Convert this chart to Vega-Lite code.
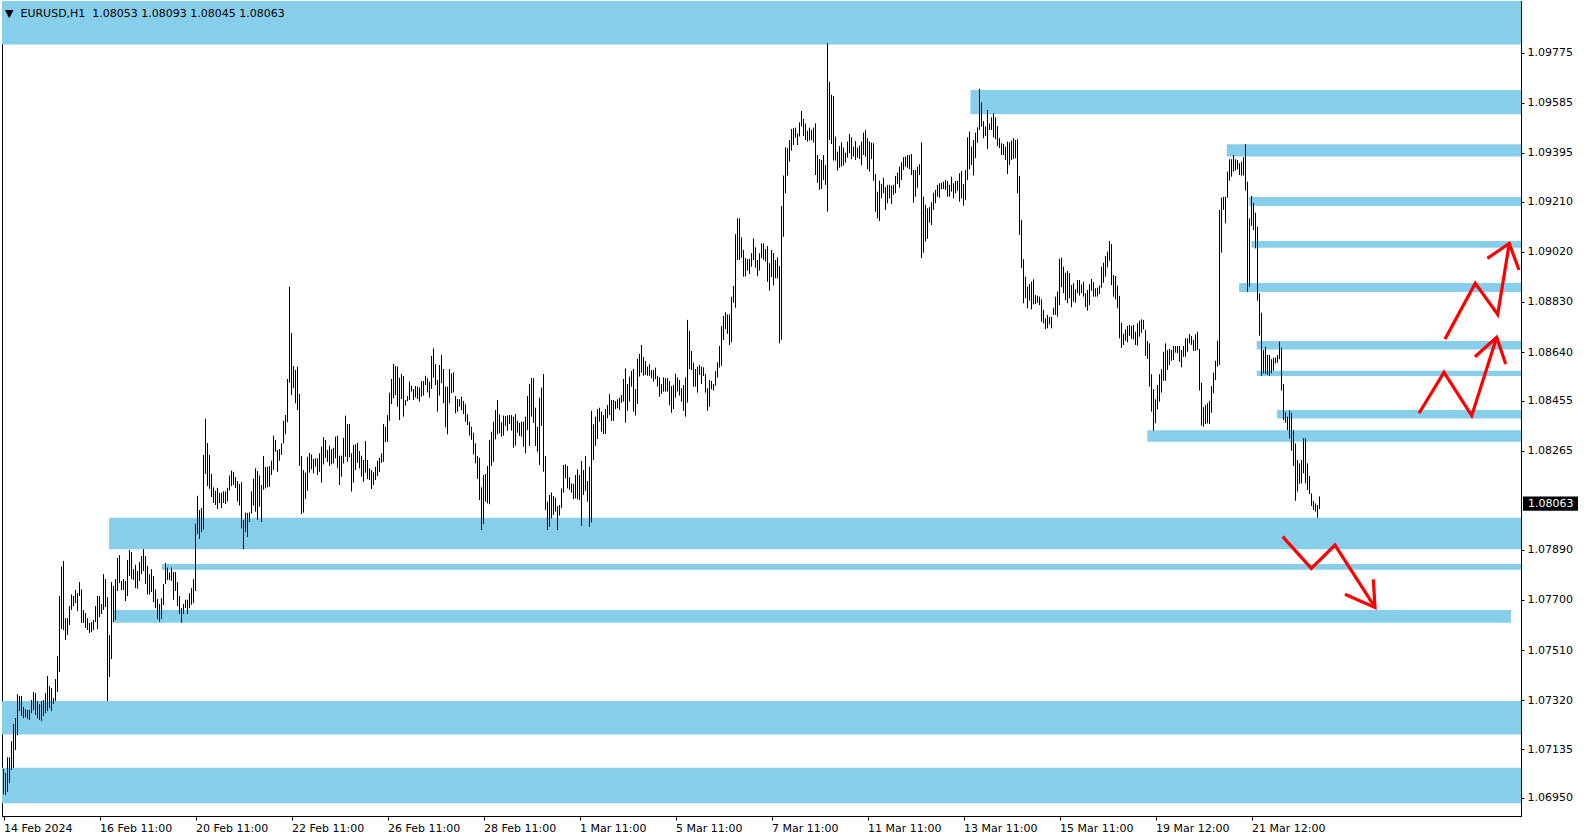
{
"$schema":"https://vega.github.io/schema/vega-lite/v6.json",
"width":1519,"height":815,
"autosize":{"type":"none"},
"padding":{"left":2,"top":1,"right":64,"bottom":24},
"background":"white",
"config":{"view":{"stroke":"#000000","strokeWidth":1},"font":"DejaVu Sans"},
"datasets":{
"bands":[
{"x":-0.75,"x2":758.75,"p":1.09806,"p2":1.09971},
{"x":483.5,"x2":758.75,"p":1.09542,"p2":1.09634},
{"x":611.6,"x2":758.75,"p":1.09381,"p2":1.09428},
{"x":622.7,"x2":758.75,"p":1.09194,"p2":1.09228},
{"x":624,"x2":758.75,"p":1.09035,"p2":1.09061},
{"x":617.8,"x2":758.75,"p":1.08868,"p2":1.08902},
{"x":626.6,"x2":758.75,"p":1.0865,"p2":1.08682},
{"x":626.6,"x2":758.75,"p":1.08549,"p2":1.08569},
{"x":636.7,"x2":758.75,"p":1.08388,"p2":1.0842},
{"x":571.9,"x2":758.75,"p":1.083,"p2":1.08344},
{"x":52.8,"x2":758.75,"p":1.07892,"p2":1.08012},
{"x":79.1,"x2":758.75,"p":1.07815,"p2":1.07836},
{"x":54.8,"x2":753.75,"p":1.07614,"p2":1.07662},
{"x":-0.75,"x2":758.75,"p":1.0719,"p2":1.07317},
{"x":-0.75,"x2":758.75,"p":1.06929,"p2":1.07064}
],
"arrows":[
{"s":"A","o":0,"x":707.75,"p":1.08408},{"s":"A","o":1,"x":720.25,"p":1.08563},{"s":"A","o":2,"x":734.1,"p":1.08399},{"s":"A","o":3,"x":746.6,"p":1.08696},
{"s":"AH","o":0,"x":735.75,"p":1.08622},{"s":"AH","o":1,"x":746.6,"p":1.08696},{"s":"AH","o":2,"x":751.1,"p":1.08595},
{"s":"B","o":0,"x":720.75,"p":1.08689},{"s":"B","o":1,"x":735.9,"p":1.08901},{"s":"B","o":2,"x":747.1,"p":1.08783},{"s":"B","o":3,"x":752.9,"p":1.09052},
{"s":"BH","o":0,"x":741.9,"p":1.08995},{"s":"BH","o":1,"x":752.9,"p":1.09052},{"s":"BH","o":2,"x":757.75,"p":1.08951},
{"s":"C","o":0,"x":639.6,"p":1.0794},{"s":"C","o":1,"x":653.9,"p":1.0782},{"s":"C","o":2,"x":665.75,"p":1.07908},{"s":"C","o":3,"x":685.75,"p":1.07672},
{"s":"CH","o":0,"x":670.75,"p":1.07722},{"s":"CH","o":1,"x":685.75,"p":1.07672},{"s":"CH","o":2,"x":684.9,"p":1.07778}
],
"bars":[
{"x":0,"p":1.06964,"p2":1.07059},{"x":1,"p":1.0696,"p2":1.07044},{"x":2,"p":1.06972,"p2":1.07104},{"x":3,"p":1.07006,"p2":1.07104},{"x":4,"p":1.07055,"p2":1.07165},{"x":5,"p":1.07063,"p2":1.0723},{"x":6,"p":1.07131,"p2":1.07252},{"x":7,"p":1.07188,"p2":1.07343},{"x":8,"p":1.07279,"p2":1.07336},{"x":9,"p":1.0726,"p2":1.07336},
{"x":10,"p":1.07252,"p2":1.07294},{"x":11,"p":1.07256,"p2":1.07286},{"x":12,"p":1.07249,"p2":1.07283},{"x":13,"p":1.07245,"p2":1.07283},{"x":14,"p":1.07271,"p2":1.07321},{"x":15,"p":1.07283,"p2":1.07351},{"x":16,"p":1.07264,"p2":1.07347},{"x":17,"p":1.07252,"p2":1.07317},{"x":18,"p":1.07245,"p2":1.07305},{"x":19,"p":1.07241,"p2":1.07317},
{"x":20,"p":1.0726,"p2":1.07321},{"x":21,"p":1.07271,"p2":1.07347},{"x":22,"p":1.07279,"p2":1.07412},{"x":23,"p":1.0729,"p2":1.07374},{"x":24,"p":1.07279,"p2":1.07366},{"x":25,"p":1.07305,"p2":1.07328},{"x":26,"p":1.07317,"p2":1.074},{"x":27,"p":1.07351,"p2":1.07487},{"x":28,"p":1.07427,"p2":1.07715},{"x":29,"p":1.0759,"p2":1.07827},
{"x":30,"p":1.07586,"p2":1.07848},{"x":31,"p":1.07548,"p2":1.07631},{"x":32,"p":1.07567,"p2":1.07631},{"x":33,"p":1.07605,"p2":1.07677},{"x":34,"p":1.07662,"p2":1.07721},{"x":35,"p":1.07677,"p2":1.07715},{"x":36,"p":1.07688,"p2":1.07738},{"x":37,"p":1.07658,"p2":1.07726},{"x":38,"p":1.07715,"p2":1.07768},{"x":39,"p":1.07613,"p2":1.0774},
{"x":40,"p":1.07613,"p2":1.07662},{"x":41,"p":1.07594,"p2":1.0765},{"x":42,"p":1.07586,"p2":1.07631},{"x":43,"p":1.07575,"p2":1.07613},{"x":44,"p":1.07578,"p2":1.07616},{"x":45,"p":1.07586,"p2":1.07624},{"x":46,"p":1.07616,"p2":1.07677},{"x":47,"p":1.0759,"p2":1.07715},{"x":48,"p":1.07635,"p2":1.07715},{"x":49,"p":1.07647,"p2":1.07685},
{"x":50,"p":1.07662,"p2":1.07798},{"x":51,"p":1.07673,"p2":1.07779},{"x":52,"p":1.07317,"p2":1.07711},{"x":53,"p":1.07408,"p2":1.07567},{"x":54,"p":1.07476,"p2":1.07768},{"x":55,"p":1.07616,"p2":1.07753},{"x":56,"p":1.07624,"p2":1.07779},{"x":57,"p":1.07734,"p2":1.07859},{"x":58,"p":1.07764,"p2":1.0787},{"x":59,"p":1.07738,"p2":1.07772},
{"x":60,"p":1.07738,"p2":1.07779},{"x":61,"p":1.07696,"p2":1.07772},{"x":62,"p":1.07715,"p2":1.07852},{"x":63,"p":1.07791,"p2":1.07889},{"x":64,"p":1.07779,"p2":1.07882},{"x":65,"p":1.07776,"p2":1.07817},{"x":66,"p":1.07745,"p2":1.07833},{"x":67,"p":1.07743,"p2":1.0781},{"x":68,"p":1.07772,"p2":1.07844},{"x":69,"p":1.07798,"p2":1.07867},
{"x":70,"p":1.0781,"p2":1.07893},{"x":71,"p":1.0776,"p2":1.07867},{"x":72,"p":1.07721,"p2":1.07829},{"x":73,"p":1.07721,"p2":1.07798},{"x":74,"p":1.0773,"p2":1.07817},{"x":75,"p":1.07692,"p2":1.07791},{"x":76,"p":1.07669,"p2":1.0774},{"x":77,"p":1.07628,"p2":1.07704},{"x":78,"p":1.07618,"p2":1.07685},{"x":79,"p":1.07628,"p2":1.07707},
{"x":80,"p":1.07681,"p2":1.0776},{"x":81,"p":1.0776,"p2":1.0784},{"x":82,"p":1.07776,"p2":1.07823},{"x":83,"p":1.07776,"p2":1.07804},{"x":84,"p":1.07772,"p2":1.07823},{"x":85,"p":1.07701,"p2":1.07806},{"x":86,"p":1.07734,"p2":1.07806},{"x":87,"p":1.07677,"p2":1.07768},{"x":88,"p":1.07647,"p2":1.07715},{"x":89,"p":1.07614,"p2":1.07669},
{"x":90,"p":1.07647,"p2":1.07685},{"x":91,"p":1.07669,"p2":1.07701},{"x":92,"p":1.07647,"p2":1.07701},{"x":93,"p":1.07669,"p2":1.07726},{"x":94,"p":1.07682,"p2":1.07745},{"x":95,"p":1.07688,"p2":1.07779},{"x":96,"p":1.07734,"p2":1.07989},{"x":97,"p":1.07951,"p2":1.08095},{"x":98,"p":1.07932,"p2":1.08041},{"x":99,"p":1.07958,"p2":1.08049},
{"x":100,"p":1.07967,"p2":1.0825},{"x":101,"p":1.08178,"p2":1.08387},{"x":102,"p":1.08132,"p2":1.08295},{"x":103,"p":1.08122,"p2":1.0825},{"x":104,"p":1.0809,"p2":1.08178},{"x":105,"p":1.08068,"p2":1.08127},{"x":106,"p":1.0806,"p2":1.08114},{"x":107,"p":1.08045,"p2":1.08125},{"x":108,"p":1.08068,"p2":1.08106},{"x":109,"p":1.08049,"p2":1.08107},
{"x":110,"p":1.08068,"p2":1.08112},{"x":111,"p":1.08064,"p2":1.08112},{"x":112,"p":1.08073,"p2":1.08125},{"x":113,"p":1.08115,"p2":1.08172},{"x":114,"p":1.08132,"p2":1.08191},{"x":115,"p":1.08136,"p2":1.08186},{"x":116,"p":1.08125,"p2":1.08166},{"x":117,"p":1.08073,"p2":1.08151},{"x":118,"p":1.08058,"p2":1.0814},{"x":119,"p":1.07971,"p2":1.08147},
{"x":120,"p":1.07893,"p2":1.08003},{"x":121,"p":1.07958,"p2":1.08031},{"x":122,"p":1.07939,"p2":1.0803},{"x":123,"p":1.07996,"p2":1.08032},{"x":124,"p":1.08028,"p2":1.08112},{"x":125,"p":1.08058,"p2":1.0816},{"x":126,"p":1.08035,"p2":1.08199},{"x":127,"p":1.08003,"p2":1.08189},{"x":128,"p":1.08054,"p2":1.08172},{"x":129,"p":1.07996,"p2":1.08136},
{"x":130,"p":1.08118,"p2":1.08246},{"x":131,"p":1.08123,"p2":1.08205},{"x":132,"p":1.08127,"p2":1.08205},{"x":133,"p":1.08129,"p2":1.08208},{"x":134,"p":1.08174,"p2":1.08228},{"x":135,"p":1.08193,"p2":1.08323},{"x":136,"p":1.08262,"p2":1.08307},{"x":137,"p":1.08186,"p2":1.08269},{"x":138,"p":1.08228,"p2":1.08272},{"x":139,"p":1.0825,"p2":1.08294},
{"x":140,"p":1.08294,"p2":1.08379},{"x":141,"p":1.08328,"p2":1.08401},{"x":142,"p":1.08374,"p2":1.08538},{"x":143,"p":1.08524,"p2":1.08888},{"x":144,"p":1.08477,"p2":1.08713},{"x":145,"p":1.08503,"p2":1.08587},{"x":146,"p":1.08446,"p2":1.08572},{"x":147,"p":1.0842,"p2":1.08585},{"x":148,"p":1.08209,"p2":1.08481},{"x":149,"p":1.08026,"p2":1.08246},
{"x":150,"p":1.08031,"p2":1.08193},{"x":151,"p":1.08083,"p2":1.08183},{"x":152,"p":1.08114,"p2":1.08243},{"x":153,"p":1.08183,"p2":1.08258},{"x":154,"p":1.08195,"p2":1.08252},{"x":155,"p":1.0818,"p2":1.08235},{"x":156,"p":1.08205,"p2":1.08237},{"x":157,"p":1.08174,"p2":1.08237},{"x":158,"p":1.08186,"p2":1.08256},{"x":159,"p":1.08145,"p2":1.08281},
{"x":160,"p":1.08214,"p2":1.08317},{"x":161,"p":1.08239,"p2":1.08307},{"x":162,"p":1.08224,"p2":1.08269},{"x":163,"p":1.08208,"p2":1.08285},{"x":164,"p":1.08214,"p2":1.08272},{"x":165,"p":1.08218,"p2":1.08277},{"x":166,"p":1.08237,"p2":1.08319},{"x":167,"p":1.08201,"p2":1.08323},{"x":168,"p":1.08136,"p2":1.08247},{"x":169,"p":1.08167,"p2":1.08247},
{"x":170,"p":1.08218,"p2":1.08315},{"x":171,"p":1.08243,"p2":1.08399},{"x":172,"p":1.08224,"p2":1.08367},{"x":173,"p":1.08241,"p2":1.08367},{"x":174,"p":1.08111,"p2":1.08256},{"x":175,"p":1.08145,"p2":1.08288},{"x":176,"p":1.08193,"p2":1.0829},{"x":177,"p":1.0822,"p2":1.08296},{"x":178,"p":1.08199,"p2":1.08265},{"x":179,"p":1.08167,"p2":1.08247},
{"x":180,"p":1.08148,"p2":1.08231},{"x":181,"p":1.08183,"p2":1.08303},{"x":182,"p":1.08158,"p2":1.08231},{"x":183,"p":1.08155,"p2":1.08199},{"x":184,"p":1.08121,"p2":1.08193},{"x":185,"p":1.08136,"p2":1.08184},{"x":186,"p":1.08155,"p2":1.08205},{"x":187,"p":1.0817,"p2":1.08228},{"x":188,"p":1.08186,"p2":1.08239},{"x":189,"p":1.0822,"p2":1.08256},
{"x":190,"p":1.08224,"p2":1.08367},{"x":191,"p":1.08298,"p2":1.08357},{"x":192,"p":1.083,"p2":1.08401},{"x":193,"p":1.08379,"p2":1.08486},{"x":194,"p":1.08443,"p2":1.08538},{"x":195,"p":1.08465,"p2":1.08595},{"x":196,"p":1.08477,"p2":1.08587},{"x":197,"p":1.08433,"p2":1.08585},{"x":198,"p":1.08382,"p2":1.08543},{"x":199,"p":1.08462,"p2":1.08557},
{"x":200,"p":1.08395,"p2":1.08549},{"x":201,"p":1.08437,"p2":1.08458},{"x":202,"p":1.08454,"p2":1.08473},{"x":203,"p":1.08458,"p2":1.08528},{"x":204,"p":1.0849,"p2":1.08512},{"x":205,"p":1.08458,"p2":1.08499},{"x":206,"p":1.08468,"p2":1.08511},{"x":207,"p":1.08462,"p2":1.08509},{"x":208,"p":1.08452,"p2":1.08506},{"x":209,"p":1.08471,"p2":1.0853},
{"x":210,"p":1.08475,"p2":1.0853},{"x":211,"p":1.08515,"p2":1.0855},{"x":212,"p":1.08487,"p2":1.08541},{"x":213,"p":1.08467,"p2":1.08528},{"x":214,"p":1.085,"p2":1.08625},{"x":215,"p":1.08543,"p2":1.08654},{"x":216,"p":1.08515,"p2":1.08594},{"x":217,"p":1.08414,"p2":1.08534},{"x":218,"p":1.08475,"p2":1.08591},{"x":219,"p":1.08522,"p2":1.08629},
{"x":220,"p":1.08446,"p2":1.08576},{"x":221,"p":1.08355,"p2":1.08509},{"x":222,"p":1.08328,"p2":1.08509},{"x":223,"p":1.08446,"p2":1.08576},{"x":224,"p":1.08484,"p2":1.08559},{"x":225,"p":1.08487,"p2":1.08563},{"x":226,"p":1.08408,"p2":1.08473},{"x":227,"p":1.08414,"p2":1.08462},{"x":228,"p":1.08433,"p2":1.08461},{"x":229,"p":1.0842,"p2":1.08471},
{"x":230,"p":1.08405,"p2":1.08455},{"x":231,"p":1.08376,"p2":1.08442},{"x":232,"p":1.08363,"p2":1.08404},{"x":233,"p":1.08323,"p2":1.08376},{"x":234,"p":1.08307,"p2":1.08357},{"x":235,"p":1.08252,"p2":1.08334},{"x":236,"p":1.08218,"p2":1.08294},{"x":237,"p":1.08159,"p2":1.08246},{"x":238,"p":1.08079,"p2":1.08239},{"x":239,"p":1.07965,"p2":1.08127},
{"x":240,"p":1.07988,"p2":1.08174},{"x":241,"p":1.08073,"p2":1.08178},{"x":242,"p":1.08066,"p2":1.08208},{"x":243,"p":1.08063,"p2":1.08307},{"x":244,"p":1.08208,"p2":1.08338},{"x":245,"p":1.08224,"p2":1.08376},{"x":246,"p":1.08309,"p2":1.0842},{"x":247,"p":1.08328,"p2":1.08458},{"x":248,"p":1.08332,"p2":1.08404},{"x":249,"p":1.08319,"p2":1.08374},
{"x":250,"p":1.08323,"p2":1.08399},{"x":251,"p":1.0836,"p2":1.08397},{"x":252,"p":1.08342,"p2":1.084},{"x":253,"p":1.08367,"p2":1.08401},{"x":254,"p":1.08342,"p2":1.08401},{"x":255,"p":1.08277,"p2":1.08395},{"x":256,"p":1.08285,"p2":1.08405},{"x":257,"p":1.08334,"p2":1.08379},{"x":258,"p":1.08322,"p2":1.08372},{"x":259,"p":1.08319,"p2":1.08376},
{"x":260,"p":1.08281,"p2":1.08376},{"x":261,"p":1.08256,"p2":1.08395},{"x":262,"p":1.08344,"p2":1.08473},{"x":263,"p":1.08284,"p2":1.08519},{"x":264,"p":1.08395,"p2":1.08541},{"x":265,"p":1.08372,"p2":1.08541},{"x":266,"p":1.08284,"p2":1.08429},{"x":267,"p":1.08262,"p2":1.08357},{"x":268,"p":1.08212,"p2":1.08467},{"x":269,"p":1.0836,"p2":1.08505},
{"x":270,"p":1.08186,"p2":1.08557},{"x":271,"p":1.08041,"p2":1.08246},{"x":272,"p":1.07965,"p2":1.08073},{"x":273,"p":1.07978,"p2":1.08098},{"x":274,"p":1.0801,"p2":1.08108},{"x":275,"p":1.08022,"p2":1.08094},{"x":276,"p":1.08035,"p2":1.08088},{"x":277,"p":1.07965,"p2":1.08056},{"x":278,"p":1.0802,"p2":1.0806},{"x":279,"p":1.08048,"p2":1.08123},
{"x":280,"p":1.08107,"p2":1.08212},{"x":281,"p":1.08161,"p2":1.08214},{"x":282,"p":1.08123,"p2":1.08208},{"x":283,"p":1.08117,"p2":1.08165},{"x":284,"p":1.08107,"p2":1.08142},{"x":285,"p":1.08082,"p2":1.0814},{"x":286,"p":1.08085,"p2":1.08174},{"x":287,"p":1.08082,"p2":1.08195},{"x":288,"p":1.08079,"p2":1.08174},{"x":289,"p":1.07982,"p2":1.08227},
{"x":290,"p":1.08098,"p2":1.08193},{"x":291,"p":1.08113,"p2":1.08246},{"x":292,"p":1.08073,"p2":1.08151},{"x":293,"p":1.07978,"p2":1.08205},{"x":294,"p":1.07994,"p2":1.08417},{"x":295,"p":1.08231,"p2":1.08366},{"x":296,"p":1.08284,"p2":1.08395},{"x":297,"p":1.0831,"p2":1.08424},{"x":298,"p":1.08376,"p2":1.08429},{"x":299,"p":1.08338,"p2":1.08414},
{"x":300,"p":1.08329,"p2":1.08401},{"x":301,"p":1.08329,"p2":1.08424},{"x":302,"p":1.08389,"p2":1.08439},{"x":303,"p":1.08401,"p2":1.08481},{"x":304,"p":1.08379,"p2":1.08458},{"x":305,"p":1.08379,"p2":1.08458},{"x":306,"p":1.08423,"p2":1.08454},{"x":307,"p":1.08427,"p2":1.08461},{"x":308,"p":1.0842,"p2":1.08467},{"x":309,"p":1.08448,"p2":1.08477},
{"x":310,"p":1.08452,"p2":1.08538},{"x":311,"p":1.08372,"p2":1.08578},{"x":312,"p":1.08417,"p2":1.08519},{"x":313,"p":1.08452,"p2":1.08547},{"x":314,"p":1.08509,"p2":1.08568},{"x":315,"p":1.08414,"p2":1.08576},{"x":316,"p":1.08399,"p2":1.085},{"x":317,"p":1.08443,"p2":1.08614},{"x":318,"p":1.08547,"p2":1.08633},{"x":319,"p":1.08562,"p2":1.08667},
{"x":320,"p":1.0855,"p2":1.08622},{"x":321,"p":1.08553,"p2":1.08606},{"x":322,"p":1.0855,"p2":1.08585},{"x":323,"p":1.0855,"p2":1.08594},{"x":324,"p":1.08541,"p2":1.08572},{"x":325,"p":1.08528,"p2":1.08572},{"x":326,"p":1.08537,"p2":1.08581},{"x":327,"p":1.08509,"p2":1.0855},{"x":328,"p":1.08471,"p2":1.08544},{"x":329,"p":1.08481,"p2":1.08519},
{"x":330,"p":1.0849,"p2":1.08544},{"x":331,"p":1.0849,"p2":1.08541},{"x":332,"p":1.0849,"p2":1.08541},{"x":333,"p":1.08439,"p2":1.0853},{"x":334,"p":1.0841,"p2":1.08511},{"x":335,"p":1.08424,"p2":1.08515},{"x":336,"p":1.08467,"p2":1.08557},{"x":337,"p":1.0849,"p2":1.08544},{"x":338,"p":1.08475,"p2":1.08534},{"x":339,"p":1.08452,"p2":1.08503},
{"x":340,"p":1.08417,"p2":1.08515},{"x":341,"p":1.08395,"p2":1.08544},{"x":342,"p":1.08448,"p2":1.08762},{"x":343,"p":1.08576,"p2":1.0872},{"x":344,"p":1.08572,"p2":1.08644},{"x":345,"p":1.08509,"p2":1.086},{"x":346,"p":1.08509,"p2":1.08576},{"x":347,"p":1.08486,"p2":1.08585},{"x":348,"p":1.08553,"p2":1.08591},{"x":349,"p":1.08519,"p2":1.08585},
{"x":350,"p":1.08549,"p2":1.08582},{"x":351,"p":1.08486,"p2":1.08557},{"x":352,"p":1.08417,"p2":1.08503},{"x":353,"p":1.08433,"p2":1.08534},{"x":354,"p":1.08499,"p2":1.08531},{"x":355,"p":1.08494,"p2":1.08519},{"x":356,"p":1.08512,"p2":1.08568},{"x":357,"p":1.08543,"p2":1.08601},{"x":358,"p":1.08581,"p2":1.08663},{"x":359,"p":1.08588,"p2":1.08739},
{"x":360,"p":1.08686,"p2":1.08777},{"x":361,"p":1.08727,"p2":1.08791},{"x":362,"p":1.08709,"p2":1.08783},{"x":363,"p":1.08667,"p2":1.08783},{"x":364,"p":1.08677,"p2":1.0885},{"x":365,"p":1.08827,"p2":1.08891},{"x":366,"p":1.08808,"p2":1.09087},{"x":367,"p":1.08989,"p2":1.09147},{"x":368,"p":1.08989,"p2":1.09147},{"x":369,"p":1.08998,"p2":1.09075},
{"x":370,"p":1.08926,"p2":1.09027},{"x":371,"p":1.08926,"p2":1.08996},{"x":372,"p":1.08949,"p2":1.08993},{"x":373,"p":1.08936,"p2":1.08993},{"x":374,"p":1.08964,"p2":1.09015},{"x":375,"p":1.08989,"p2":1.09071},{"x":376,"p":1.0896,"p2":1.09037},{"x":377,"p":1.08928,"p2":1.08989},{"x":378,"p":1.08949,"p2":1.09015},{"x":379,"p":1.08996,"p2":1.09052},
{"x":380,"p":1.08989,"p2":1.09052},{"x":381,"p":1.08983,"p2":1.09031},{"x":382,"p":1.08907,"p2":1.09042},{"x":383,"p":1.08873,"p2":1.08977},{"x":384,"p":1.08924,"p2":1.09027},{"x":385,"p":1.08892,"p2":1.09015},{"x":386,"p":1.0892,"p2":1.08989},{"x":387,"p":1.0892,"p2":1.08999},{"x":388,"p":1.08673,"p2":1.08966},{"x":389,"p":1.08686,"p2":1.09194},
{"x":390,"p":1.09077,"p2":1.09309},{"x":391,"p":1.09242,"p2":1.09416},{"x":392,"p":1.09309,"p2":1.09413},{"x":393,"p":1.09362,"p2":1.09444},{"x":394,"p":1.09404,"p2":1.09486},{"x":395,"p":1.09425,"p2":1.09489},{"x":396,"p":1.09453,"p2":1.09491},{"x":397,"p":1.09425,"p2":1.09469},{"x":398,"p":1.09457,"p2":1.09511},{"x":399,"p":1.09495,"p2":1.09554},
{"x":400,"p":1.09459,"p2":1.09524},{"x":401,"p":1.09444,"p2":1.09507},{"x":402,"p":1.09438,"p2":1.09479},{"x":403,"p":1.09442,"p2":1.09491},{"x":404,"p":1.09444,"p2":1.09482},{"x":405,"p":1.09435,"p2":1.09491},{"x":406,"p":1.09311,"p2":1.09507},{"x":407,"p":1.09282,"p2":1.09387},{"x":408,"p":1.09255,"p2":1.09372},{"x":409,"p":1.09258,"p2":1.09368},
{"x":410,"p":1.09292,"p2":1.09387},{"x":411,"p":1.09274,"p2":1.09349},{"x":412,"p":1.09172,"p2":1.09811},{"x":413,"p":1.09444,"p2":1.09665},{"x":414,"p":1.09429,"p2":1.09615},{"x":415,"p":1.09366,"p2":1.09611},{"x":416,"p":1.09366,"p2":1.09457},{"x":417,"p":1.09328,"p2":1.094},{"x":418,"p":1.09339,"p2":1.09421},{"x":419,"p":1.09343,"p2":1.09435},
{"x":420,"p":1.09347,"p2":1.09415},{"x":421,"p":1.09358,"p2":1.09396},{"x":422,"p":1.09377,"p2":1.09438},{"x":423,"p":1.09394,"p2":1.09467},{"x":424,"p":1.09371,"p2":1.09454},{"x":425,"p":1.09381,"p2":1.09419},{"x":426,"p":1.09368,"p2":1.0944},{"x":427,"p":1.09377,"p2":1.09415},{"x":428,"p":1.09372,"p2":1.09423},{"x":429,"p":1.09349,"p2":1.09438},
{"x":430,"p":1.09387,"p2":1.09472},{"x":431,"p":1.09381,"p2":1.09482},{"x":432,"p":1.09333,"p2":1.09451},{"x":433,"p":1.09324,"p2":1.09438},{"x":434,"p":1.09371,"p2":1.09434},{"x":435,"p":1.09289,"p2":1.09432},{"x":436,"p":1.09172,"p2":1.09315},{"x":437,"p":1.09147,"p2":1.09248},{"x":438,"p":1.09137,"p2":1.0929},{"x":439,"p":1.09223,"p2":1.09277},
{"x":440,"p":1.09242,"p2":1.09301},{"x":441,"p":1.09179,"p2":1.09265},{"x":442,"p":1.09204,"p2":1.09274},{"x":443,"p":1.09223,"p2":1.09274},{"x":444,"p":1.09201,"p2":1.09271},{"x":445,"p":1.09236,"p2":1.09274},{"x":446,"p":1.09242,"p2":1.09308},{"x":447,"p":1.09277,"p2":1.0932},{"x":448,"p":1.09263,"p2":1.09343},{"x":449,"p":1.09292,"p2":1.0936},
{"x":450,"p":1.0933,"p2":1.09379},{"x":451,"p":1.09343,"p2":1.09381},{"x":452,"p":1.09339,"p2":1.09387},{"x":453,"p":1.09333,"p2":1.09387},{"x":454,"p":1.09311,"p2":1.09391},{"x":455,"p":1.09206,"p2":1.0933},{"x":456,"p":1.09229,"p2":1.0933},{"x":457,"p":1.09263,"p2":1.09343},{"x":458,"p":1.09311,"p2":1.09352},{"x":459,"p":1.08996,"p2":1.09435},
{"x":460,"p":1.09017,"p2":1.09229},{"x":461,"p":1.09059,"p2":1.09198},{"x":462,"p":1.09069,"p2":1.09185},{"x":463,"p":1.09131,"p2":1.09189},{"x":464,"p":1.09122,"p2":1.09208},{"x":465,"p":1.09179,"p2":1.09244},{"x":466,"p":1.09204,"p2":1.09255},{"x":467,"p":1.09229,"p2":1.09274},{"x":468,"p":1.09225,"p2":1.0928},{"x":469,"p":1.09257,"p2":1.09282},
{"x":470,"p":1.09258,"p2":1.09286},{"x":471,"p":1.09255,"p2":1.09292},{"x":472,"p":1.09229,"p2":1.09289},{"x":473,"p":1.09229,"p2":1.09274},{"x":474,"p":1.09248,"p2":1.09305},{"x":475,"p":1.09223,"p2":1.0928},{"x":476,"p":1.09242,"p2":1.09289},{"x":477,"p":1.09251,"p2":1.09289},{"x":478,"p":1.0921,"p2":1.09318},{"x":479,"p":1.09223,"p2":1.09327},
{"x":480,"p":1.09195,"p2":1.09277},{"x":481,"p":1.09217,"p2":1.0933},{"x":482,"p":1.09292,"p2":1.09454},{"x":483,"p":1.09333,"p2":1.09476},{"x":484,"p":1.09349,"p2":1.09419},{"x":485,"p":1.09309,"p2":1.09444},{"x":486,"p":1.09375,"p2":1.09472},{"x":487,"p":1.09434,"p2":1.09492},{"x":488,"p":1.09482,"p2":1.09638},{"x":489,"p":1.09495,"p2":1.09586},
{"x":490,"p":1.09451,"p2":1.09516},{"x":491,"p":1.09459,"p2":1.09495},{"x":492,"p":1.0941,"p2":1.09558},{"x":493,"p":1.09482,"p2":1.09507},{"x":494,"p":1.09482,"p2":1.0953},{"x":495,"p":1.09454,"p2":1.09545},{"x":496,"p":1.09447,"p2":1.0953},{"x":497,"p":1.09421,"p2":1.09497},{"x":498,"p":1.09413,"p2":1.09451},{"x":499,"p":1.09387,"p2":1.09432},
{"x":500,"p":1.09387,"p2":1.09429},{"x":501,"p":1.09368,"p2":1.09419},{"x":502,"p":1.09315,"p2":1.09438},{"x":503,"p":1.09349,"p2":1.09435},{"x":504,"p":1.09368,"p2":1.09442},{"x":505,"p":1.09372,"p2":1.09451},{"x":506,"p":1.09375,"p2":1.09444},{"x":507,"p":1.09242,"p2":1.09447},{"x":508,"p":1.09084,"p2":1.09308},{"x":509,"p":1.08958,"p2":1.09141},
{"x":510,"p":1.08825,"p2":1.08992},{"x":511,"p":1.08844,"p2":1.08926},{"x":512,"p":1.08806,"p2":1.08888},{"x":513,"p":1.08835,"p2":1.08898},{"x":514,"p":1.08802,"p2":1.08907},{"x":515,"p":1.08821,"p2":1.08916},{"x":516,"p":1.08822,"p2":1.08856},{"x":517,"p":1.08827,"p2":1.08853},{"x":518,"p":1.08818,"p2":1.0885},{"x":519,"p":1.08755,"p2":1.0884},
{"x":520,"p":1.08749,"p2":1.088},{"x":521,"p":1.08727,"p2":1.08768},{"x":522,"p":1.0873,"p2":1.08781},{"x":523,"p":1.08745,"p2":1.08772},{"x":524,"p":1.0873,"p2":1.08774},{"x":525,"p":1.08781,"p2":1.08808},{"x":526,"p":1.08781,"p2":1.0885},{"x":527,"p":1.08774,"p2":1.08869},{"x":528,"p":1.08818,"p2":1.08993},{"x":529,"p":1.08886,"p2":1.08998},
{"x":530,"p":1.08863,"p2":1.08964},{"x":531,"p":1.08837,"p2":1.08941},{"x":532,"p":1.08825,"p2":1.08947},{"x":533,"p":1.08844,"p2":1.08939},{"x":534,"p":1.0881,"p2":1.08894},{"x":535,"p":1.08831,"p2":1.08901},{"x":536,"p":1.08827,"p2":1.08878},{"x":537,"p":1.08863,"p2":1.08913},{"x":538,"p":1.08854,"p2":1.08913},{"x":539,"p":1.08863,"p2":1.08897},
{"x":540,"p":1.0885,"p2":1.08907},{"x":541,"p":1.0881,"p2":1.08863},{"x":542,"p":1.08797,"p2":1.08875},{"x":543,"p":1.08818,"p2":1.08897},{"x":544,"p":1.08872,"p2":1.08917},{"x":545,"p":1.0885,"p2":1.08905},{"x":546,"p":1.0885,"p2":1.08882},{"x":547,"p":1.0885,"p2":1.08884},{"x":548,"p":1.0886,"p2":1.08892},{"x":549,"p":1.08884,"p2":1.08964},
{"x":550,"p":1.08903,"p2":1.08979},{"x":551,"p":1.08926,"p2":1.09004},{"x":552,"p":1.08961,"p2":1.09021},{"x":553,"p":1.08986,"p2":1.09061},{"x":554,"p":1.08894,"p2":1.0905},{"x":555,"p":1.0885,"p2":1.08932},{"x":556,"p":1.0884,"p2":1.08928},{"x":557,"p":1.08806,"p2":1.08892},{"x":558,"p":1.08692,"p2":1.08853},{"x":559,"p":1.08656,"p2":1.08751},
{"x":560,"p":1.08667,"p2":1.08709},{"x":561,"p":1.08683,"p2":1.08726},{"x":562,"p":1.08677,"p2":1.08739},{"x":563,"p":1.08701,"p2":1.08743},{"x":564,"p":1.0869,"p2":1.08739},{"x":565,"p":1.08688,"p2":1.08743},{"x":566,"p":1.08667,"p2":1.08717},{"x":567,"p":1.08664,"p2":1.08749},{"x":568,"p":1.08698,"p2":1.08759},{"x":569,"p":1.08713,"p2":1.08764},
{"x":570,"p":1.08726,"p2":1.08762},{"x":571,"p":1.08626,"p2":1.08724},{"x":572,"p":1.08614,"p2":1.08682},{"x":573,"p":1.08509,"p2":1.08673},{"x":574,"p":1.08414,"p2":1.08556},{"x":575,"p":1.08342,"p2":1.08499},{"x":576,"p":1.0837,"p2":1.08461},{"x":577,"p":1.08423,"p2":1.08515},{"x":578,"p":1.08452,"p2":1.08556},{"x":579,"p":1.08486,"p2":1.08575},
{"x":580,"p":1.08531,"p2":1.08641},{"x":581,"p":1.08531,"p2":1.08673},{"x":582,"p":1.08572,"p2":1.08648},{"x":583,"p":1.08591,"p2":1.08652},{"x":584,"p":1.08607,"p2":1.08648},{"x":585,"p":1.0861,"p2":1.08663},{"x":586,"p":1.08638,"p2":1.08663},{"x":587,"p":1.08635,"p2":1.08663},{"x":588,"p":1.08603,"p2":1.08663},{"x":589,"p":1.08582,"p2":1.08648},
{"x":590,"p":1.08622,"p2":1.08663},{"x":591,"p":1.08622,"p2":1.08692},{"x":592,"p":1.08641,"p2":1.08692},{"x":593,"p":1.08673,"p2":1.08709},{"x":594,"p":1.08667,"p2":1.08701},{"x":595,"p":1.08645,"p2":1.08686},{"x":596,"p":1.08645,"p2":1.08707},{"x":597,"p":1.08648,"p2":1.08717},{"x":598,"p":1.08494,"p2":1.08652},{"x":599,"p":1.08361,"p2":1.08524},
{"x":600,"p":1.08357,"p2":1.08431},{"x":601,"p":1.08367,"p2":1.08439},{"x":602,"p":1.0837,"p2":1.08446},{"x":603,"p":1.08367,"p2":1.08455},{"x":604,"p":1.0841,"p2":1.08511},{"x":605,"p":1.08484,"p2":1.08562},{"x":606,"p":1.08534,"p2":1.08607},{"x":607,"p":1.08585,"p2":1.08683},{"x":608,"p":1.08591,"p2":1.09179},{"x":609,"p":1.09017,"p2":1.09225},
{"x":610,"p":1.09179,"p2":1.09229},{"x":611,"p":1.09128,"p2":1.09229},{"x":612,"p":1.09225,"p2":1.09324},{"x":613,"p":1.0929,"p2":1.09371},{"x":614,"p":1.09305,"p2":1.09371},{"x":615,"p":1.09324,"p2":1.09387},{"x":616,"p":1.09328,"p2":1.09371},{"x":617,"p":1.09333,"p2":1.09368},{"x":618,"p":1.09311,"p2":1.09356},{"x":619,"p":1.09309,"p2":1.09362},
{"x":620,"p":1.09309,"p2":1.09379},{"x":621,"p":1.09252,"p2":1.09428},{"x":622,"p":1.08869,"p2":1.09286},{"x":623,"p":1.08888,"p2":1.09147},{"x":624,"p":1.09119,"p2":1.09232},{"x":625,"p":1.09103,"p2":1.09206},{"x":626,"p":1.09033,"p2":1.09168},{"x":627,"p":1.08835,"p2":1.09115},{"x":628,"p":1.08702,"p2":1.08863},{"x":629,"p":1.0855,"p2":1.08789},
{"x":630,"p":1.08559,"p2":1.08648},{"x":631,"p":1.08557,"p2":1.0866},{"x":632,"p":1.08553,"p2":1.08629},{"x":633,"p":1.08549,"p2":1.08629},{"x":634,"p":1.08559,"p2":1.08613},{"x":635,"p":1.08569,"p2":1.08619},{"x":636,"p":1.08597,"p2":1.08619},{"x":637,"p":1.086,"p2":1.08629},{"x":638,"p":1.08613,"p2":1.08679},{"x":639,"p":1.08494,"p2":1.08656},
{"x":640,"p":1.08382,"p2":1.08519},{"x":641,"p":1.08372,"p2":1.08412},{"x":642,"p":1.08344,"p2":1.08395},{"x":643,"p":1.08313,"p2":1.08418},{"x":644,"p":1.08266,"p2":1.0841},{"x":645,"p":1.08208,"p2":1.08344},{"x":646,"p":1.08076,"p2":1.08294},{"x":647,"p":1.08111,"p2":1.08231},{"x":648,"p":1.0814,"p2":1.08218},{"x":649,"p":1.08142,"p2":1.08231},
{"x":650,"p":1.0818,"p2":1.08313},{"x":651,"p":1.08142,"p2":1.08313},{"x":652,"p":1.08117,"p2":1.08218},{"x":653,"p":1.08102,"p2":1.0817},{"x":654,"p":1.08056,"p2":1.08104},{"x":655,"p":1.08041,"p2":1.08075},{"x":656,"p":1.08035,"p2":1.08066},{"x":657,"p":1.08012,"p2":1.0806},{"x":658,"p":1.08045,"p2":1.08093}
]
},
"encoding":{
"x":{"field":"x","type":"quantitative","scale":{"domain":[-0.75,758.75],"nice":false,"zero":false},
"axis":{"orient":"bottom","title":null,"grid":false,"values":[0,48,96,144,192,240,288,336,384,432,480,528,576,624],
"labelExpr":"['14 Feb 2024','16 Feb 11:00','20 Feb 11:00','22 Feb 11:00','26 Feb 11:00','28 Feb 11:00','1 Mar 11:00','5 Mar 11:00','7 Mar 11:00','11 Mar 11:00','13 Mar 11:00','15 Mar 11:00','19 Mar 12:00','21 Mar 12:00'][round(datum.value/48)]",
"labelAlign":"left","labelFont":"DejaVu Sans","labelFontSize":11,"labelColor":"#000000","labelPadding":2,"tickSize":4,"tickColor":"#000000","domainColor":"#000000","labelFlush":false,"labelOverlap":false,"labelBound":false}},
"y":{"field":"p","type":"quantitative","scale":{"domain":[1.06881,1.09971],"nice":false,"zero":false},
"axis":{"orient":"right","title":null,"grid":false,"values":[1.09775,1.09585,1.09395,1.0921,1.0902,1.0883,1.0864,1.08455,1.08265,1.0789,1.077,1.0751,1.0732,1.07135,1.0695],
"format":".5f","labelFont":"DejaVu Sans","labelFontSize":11,"labelColor":"#000000","labelPadding":3,"tickSize":3,"tickColor":"#000000","domainColor":"#000000","labelOverlap":false,"labelBound":false,"labelFlush":false}}
},
"layer":[
{"data":{"name":"bands"},"mark":{"type":"rect","color":"#87CEEB","clip":true},"encoding":{"x2":{"field":"x2"},"y2":{"field":"p2"}}},
{"data":{"name":"bars"},"mark":{"type":"rule","color":"#000000","strokeWidth":1,"clip":true},"encoding":{"y2":{"field":"p2"}}},
{"data":{"name":"arrows"},"mark":{"type":"line","color":"#FF0000","strokeWidth":3.2,"strokeJoin":"miter","strokeCap":"butt","clip":false},"encoding":{"detail":{"field":"s"},"order":{"field":"o","type":"quantitative"}}},
{"data":{"values":[{"x":759.75,"x2":787.25,"p":1.08038,"p2":1.08092}]},"mark":{"type":"rect","color":"#000000"},"encoding":{"x2":{"field":"x2"},"y2":{"field":"p2"}}},
{"data":{"values":[{"x":762.25,"p":1.08063,"t":"1.08063"}]},"mark":{"type":"text","color":"#FFFFFF","align":"left","baseline":"middle","font":"DejaVu Sans","fontSize":11},"encoding":{"text":{"field":"t"}}},
{"data":{"values":[{"x":0.75,"p":1.09912,"t":"▼\u00a0\u00a0EURUSD,H1\u00a0\u00a01.08053 1.08093 1.08045 1.08063"}]},"mark":{"type":"text","color":"#000000","align":"left","baseline":"alphabetic","font":"DejaVu Sans","fontSize":11},"encoding":{"text":{"field":"t"}}}
]
}
